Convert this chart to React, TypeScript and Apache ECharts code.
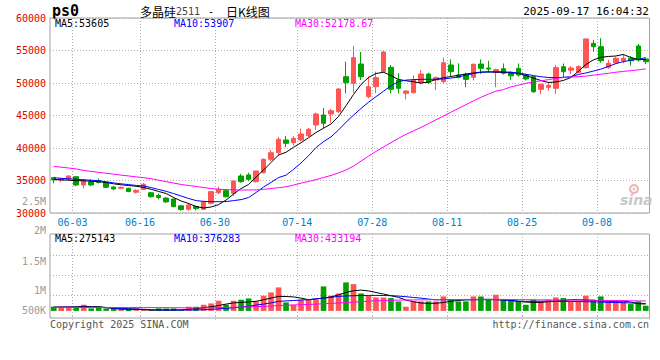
import React, { useEffect, useRef } from "react";
import * as echarts from "echarts";

// ---------- data ----------
const dates = [
  "05-28", "05-29", "05-30",
  "06-03", "06-04", "06-05", "06-06", "06-09", "06-10", "06-11", "06-12", "06-13",
  "06-16", "06-17", "06-18", "06-19", "06-20", "06-23", "06-24", "06-25", "06-26", "06-27",
  "06-30", "07-01", "07-02", "07-03", "07-04", "07-05", "07-07", "07-08", "07-09", "07-10", "07-11",
  "07-14", "07-15", "07-16", "07-17", "07-18", "07-21", "07-22", "07-23", "07-24", "07-25",
  "07-28", "07-29", "07-30", "07-31", "08-01", "08-04", "08-05", "08-06", "08-07", "08-08",
  "08-11", "08-12", "08-13", "08-14", "08-15", "08-18", "08-19", "08-20", "08-21", "08-22",
  "08-25", "08-26", "08-27", "08-28", "08-29", "09-01", "09-02", "09-03", "09-04", "09-05",
  "09-08", "09-09", "09-10", "09-11", "09-12", "09-15", "09-16",
];

const labelDates = ["06-03", "06-16", "06-30", "07-14", "07-28", "08-11", "08-25", "09-08"];

// [open, close, low, high]
const candles = [
  [35430, 35080, 34570, 35480], [35050, 35250, 34750, 35400], [35180, 35690, 35000, 35800],
  [35580, 34310, 34100, 35600], [34310, 35080, 33800, 35200], [34815, 34310, 34150, 35230],
  [35000, 34700, 34550, 35300], [34720, 33950, 33850, 34800], [34000, 33700, 33500, 34100],
  [33800, 33950, 33700, 34050], [33800, 33300, 33200, 33900], [33200, 33500, 33000, 33650],
  [33650, 34420, 33500, 34600], [33120, 32510, 32350, 33200], [32700, 32400, 32100, 33000],
  [32300, 31700, 31600, 32400], [32150, 30970, 30900, 32200], [31100, 30550, 30350, 31200],
  [30570, 31230, 30350, 31600], [31000, 30700, 30400, 31100], [30570, 31740, 30500, 31900],
  [31490, 33280, 31300, 33400], [33120, 33650, 32900, 34050], [33430, 32510, 32400, 33600],
  [33030, 34920, 32600, 35000], [35690, 34815, 34660, 36000], [35850, 35180, 34900, 36200],
  [34815, 36460, 34700, 36500], [36200, 38260, 36100, 38400], [38260, 39280, 38000, 39700],
  [39280, 41340, 38900, 41700], [41230, 40720, 40110, 41850], [40815, 41490, 40400, 41850],
  [41220, 42150, 41000, 43000], [41900, 42880, 41700, 43100], [43540, 45230, 42820, 45460],
  [45080, 43800, 43050, 46150], [45230, 45740, 43900, 46000], [45590, 49080, 45400, 49200],
  [50970, 50050, 48420, 53280], [49950, 53900, 48510, 55740], [52920, 50970, 50460, 54770],
  [47900, 49430, 47650, 51000], [49430, 50820, 48420, 51740], [51740, 54770, 51600, 54900],
  [52410, 49030, 48420, 52770], [50460, 49180, 48400, 51500], [48420, 48770, 47490, 48900],
  [48510, 50460, 48400, 51180], [50050, 51380, 49800, 52000], [51380, 50050, 49900, 51600],
  [50460, 50820, 48920, 51000], [50200, 53120, 49950, 53900], [52770, 51740, 51000, 53640],
  [51230, 50870, 50700, 53020], [51330, 50560, 49340, 51600], [50870, 52870, 50400, 53020],
  [52920, 52260, 51400, 53640], [52300, 52150, 51600, 53400], [51640, 52050, 49340, 52200],
  [52200, 51500, 51300, 53000], [51640, 51100, 50500, 51800], [52250, 51230, 51000, 53000],
  [51230, 50620, 50400, 51400], [50970, 48660, 48460, 51100], [49030, 49800, 48300, 49900],
  [49340, 49650, 48800, 50200], [49180, 52360, 48300, 52800], [52510, 51740, 50800, 53000],
  [51980, 52300, 51400, 52600], [51640, 52520, 51500, 52700], [52360, 56770, 52200, 56900],
  [56100, 55590, 54820, 56620], [55590, 53430, 53120, 56880], [52410, 53030, 52200, 53540],
  [53120, 53800, 52900, 54000], [53430, 53800, 53030, 54460], [53800, 53430, 52660, 54150],
  [55690, 53540, 53280, 56000], [53690, 53280, 52900, 53800],
];

const ma5 = [
  35155, 35110, 35045, 34985, 34955, 34890, 34815, 34690, 34490, 34340,
  34230, 34110, 33925, 33645, 33310, 33000, 32385, 31845, 31460, 31000,
  30770, 30925, 31290, 32000, 32925, 33770, 34385, 35540, 36615, 37770,
  38925, 39350, 40115, 40810, 41580, 42385, 43040, 43695, 44850, 46500,
  48230, 49770, 50845, 51460, 51650, 51150, 50540, 50350, 50190, 50000,
  50155, 50540, 50810, 51000, 51190, 51385, 51540, 51680, 51715, 51660,
  51630, 51570, 51490, 51155, 50770, 50385, 50075, 50155, 50385, 50845,
  51770, 52845, 53540, 53955, 54080, 54155, 54385, 53925, 53615, 53605,
];
const ma10 = [
  35415, 35340, 35260, 35185, 35110, 35030, 34970, 34800, 34630, 34490,
  34370, 34245, 34155, 33910, 33615, 33340, 32985, 32615, 32230, 31910,
  31785, 31740, 31740, 31755, 31910, 32060, 32370, 33155, 34000, 34710,
  35450, 35820, 36715, 37700, 38800, 40070, 40975, 41710, 42770, 43970,
  45050, 46080, 47040, 47900, 48730, 49570, 50200, 50440, 50520, 50560,
  50570, 50570, 50625, 50755, 50940, 51180, 51455, 51640, 51695, 51720,
  51725, 51650, 51525, 51355, 51140, 50970, 50845, 50815, 50875, 50970,
  51310, 51540, 51830, 52125, 52540, 52985, 53290, 53490, 53645, 53907,
];
const ma30 = [
  37180, 37050, 36920, 36780, 36560, 36400, 36250, 36120, 35980, 35820,
  35700, 35560, 35430, 35280, 35050, 34820, 34600, 34390, 34230, 34090,
  33920, 33760, 33650, 33600, 33560, 33540, 33540, 33550, 33640, 33760,
  33900, 34025, 34300, 34590, 34860, 35140, 35455, 35785, 36165, 36615,
  37215, 37980, 38750, 39475, 40165, 40815, 41480, 42105, 42630, 43165,
  43745, 44330, 44920, 45505, 46085, 46670, 47255, 47800, 48285, 48750,
  48980, 49400, 49660, 49950, 50180, 50330, 50520, 50700, 50840, 50910,
  50980, 51060, 51200, 51350, 51490, 51650, 51780, 51900, 52030, 52178.67,
];

const volumes = [
  226000, 222000, 224000, 221000, 274000, 182000, 225000, 183000, 180000, 184000,
  182000, 181000, 166000, 141000, 183000, 180000, 182000, 142000, 224000, 222000,
  274000, 307000, 374000, 276000, 374000, 399000, 432000, 357000, 499000, 582000,
  707000, 332000, 274000, 399000, 401000, 397000, 732000, 499000, 557000, 832000,
  790000, 557000, 499000, 457000, 455000, 441000, 357000, 224000, 359000, 356000,
  357000, 358000, 482000, 399000, 356000, 358000, 482000, 480000, 399000, 524000,
  401000, 398000, 357000, 274000, 399000, 357000, 400000, 457000, 441000, 358000,
  356000, 499000, 399000, 482000, 357000, 358000, 356000, 291000, 357000, 249000,
];
const volMa5 = [
  215000, 218000, 220000, 222000, 234000, 226000, 226000, 206000, 180000, 165000,
  160000, 160000, 150000, 142000, 142000, 142000, 142000, 145000, 160000, 175000,
  200000, 225000, 255000, 290000, 320000, 333000, 345000, 360000, 400000, 440000,
  483000, 480000, 470000, 440000, 400000, 420000, 440000, 470000, 520000, 580000,
  625000, 640000, 620000, 580000, 542000, 500000, 458000, 392000, 350000, 318000,
  308000, 312000, 330000, 360000, 380000, 398000, 400000, 405000, 410000, 405000,
  392000, 380000, 358000, 340000, 333000, 333000, 350000, 358000, 380000, 400000,
  400000, 392000, 383000, 370000, 358000, 360000, 367000, 340000, 300000, 292000,
];
const volMa10 = [
  210000, 210000, 212000, 212000, 215000, 212000, 210000, 200000, 190000, 180000,
  175000, 168000, 160000, 150000, 145000, 142000, 142000, 142000, 142000, 145000,
  150000, 160000, 172000, 185000, 198000, 215000, 235000, 265000, 290000, 320000,
  358000, 370000, 380000, 392000, 400000, 420000, 440000, 460000, 483000, 492000,
  500000, 505000, 507000, 507000, 505000, 500000, 490000, 475000, 455000, 440000,
  415000, 398000, 400000, 400000, 400000, 400000, 400000, 402000, 400000, 398000,
  395000, 380000, 365000, 358000, 360000, 362000, 362000, 360000, 358000, 358000,
  355000, 350000, 345000, 340000, 333000, 330000, 325000, 318000, 310000, 305000,
];
const volMa30 = [
  208000, 208000, 207000, 207000, 207000, 206000, 206000, 206000, 205000, 205000,
  204000, 204000, 203000, 202000, 202000, 201000, 200000, 198000, 196000, 195000,
  196000, 198000, 202000, 206000, 210000, 215000, 220000, 225000, 232000, 242000,
  255000, 262000, 268000, 275000, 282000, 288000, 300000, 308000, 318000, 330000,
  340000, 350000, 362000, 372000, 380000, 386000, 390000, 392000, 394000, 396000,
  398000, 400000, 402000, 404000, 405000, 406000, 407000, 408000, 408000, 408000,
  407000, 405000, 403000, 400000, 398000, 396000, 395000, 394000, 393000, 392000,
  390000, 388000, 385000, 382000, 380000, 378000, 375000, 373000, 370000, 368000,
];

const priceHeader = ["MA5:53605", "MA10:53907", "MA30:52178.67"];
const volHeader = ["MA5:275143", "MA10:376283", "MA30:433194"];
const volTickLabels = ["2.5M", "2M", "1.5M", "1M", "500K"];
const volGridValues = [500000, 1000000, 1500000];
const titleCode = "ps0";
const titleName = ["多晶硅", "2511", "-", "日K线图"];
const timestamp = "2025-09-17 16:04:32";
const footer = ["Copyright 2025 SINA.COM", "http://finance.sina.com.cn"];

// ---------- layout / style ----------
const UP = "#ff5555";
const DOWN = "#00a000";
const GRID_LINE = "#b0b0b0";
const BORDER = "#a0a0a0";
const MONO = '"DejaVu Sans Mono", "Liberation Mono", monospace';
const CJK = '"Noto Sans CJK SC", sans-serif';
const VOL_BASE = 120000;
const volLabelY = [201, 230.7, 261, 290, 310.3];
const headerX = [55, 174, 295];
const headerColors = ["#000000", "#0000ff", "#ff00ff"];

const isLabel = (_i: number, v: string) => labelDates.indexOf(v) >= 0;

export default function App() {
  const ref = useRef<HTMLDivElement>(null);

  useEffect(() => {
    if (!ref.current) return;
    const chart = echarts.init(ref.current, undefined, { renderer: "svg" });

    const dotted = { color: GRID_LINE, width: 1, type: [1, 2] as any };

    const lineSeries = (data: number[], color: string, xi: number, yi: number, z: number) => ({
      type: "line",
      xAxisIndex: xi,
      yAxisIndex: yi,
      data,
      symbol: "none",
      showSymbol: false,
      silent: true,
      z,
      lineStyle: { color, width: 1 },
      emphasis: { disabled: true },
    });

    const volData = volumes.map((v, i) => [i, v, candles[i][1] >= candles[i][0] ? 1 : -1]);

    const texts: any[] = [];
    const addText = (text: string, x: number, y: number, font: string, fill: string, align = "left") => {
      texts.push({
        type: "text",
        x,
        y,
        silent: true,
        style: { text, font, fill, textAlign: align, textVerticalAlign: "middle" },
      });
    };

    addText(titleCode, 52, 11, `bold 15px ${MONO}`, "#000");
    addText(titleName[0], 140, 11, `12px ${CJK}`, "#000");
    addText(titleName[1], 176, 11, `10px ${MONO}`, "#444");
    addText(titleName[2], 208, 11, `10px ${MONO}`, "#000");
    addText(titleName[3], 226, 11, `12px ${CJK}`, "#000");
    addText(timestamp, 649, 11.5, `11px ${MONO}`, "#000", "right");
    priceHeader.forEach((t, k) => addText(t, headerX[k], 23.7, `10px ${MONO}`, headerColors[k]));
    volHeader.forEach((t, k) => addText(t, headerX[k], 238.5, `10px ${MONO}`, headerColors[k]));
    volTickLabels.forEach((t, k) => addText(t, 46, volLabelY[k], `10px ${MONO}`, "#9a9a9a", "right"));
    addText(footer[0], 50, 324, `10px ${MONO}`, "#555", "left");
    addText(footer[1], 649, 324, `10px ${MONO}`, "#555", "right");
    // sina watermark
    texts.push({
      type: "circle",
      silent: true,
      shape: { cx: 634, cy: 189, r: 4 },
      style: { fill: "none", stroke: "#f2b0b0", lineWidth: 2 },
    });
    texts.push({
      type: "circle",
      silent: true,
      shape: { cx: 634, cy: 189, r: 1.5 },
      style: { fill: "#c8c8c8" },
    });
    addText("sina", 620, 200, `italic bold 14px "DejaVu Sans", sans-serif`, "#c8c8c8");

    const option: any = {
      animation: false,
      backgroundColor: "#ffffff",
      grid: [
        { left: 50, top: 18, width: 599.5, height: 195, show: true, borderColor: BORDER, borderWidth: 1, backgroundColor: "transparent" },
        { left: 50, top: 234, width: 599.5, height: 84, show: true, borderColor: BORDER, borderWidth: 1, backgroundColor: "transparent" },
      ],
      xAxis: [
        {
          type: "category",
          gridIndex: 0,
          data: dates,
          boundaryGap: true,
          axisLine: { show: false },
          axisTick: { show: false },
          axisLabel: {
            interval: isLabel,
            color: "#0080c8",
            fontFamily: MONO,
            fontSize: 10,
            margin: 4,
            padding: [0, 7.5, 0, 0],
          },
          splitLine: { show: true, interval: isLabel, lineStyle: dotted },
        },
        {
          type: "category",
          gridIndex: 1,
          data: dates,
          boundaryGap: true,
          axisLine: { show: false },
          axisTick: { show: true, interval: isLabel, length: 4, lineStyle: dotted },
          axisLabel: { show: false },
          splitLine: { show: true, interval: isLabel, lineStyle: dotted },
        },
      ],
      yAxis: [
        {
          type: "value",
          gridIndex: 0,
          min: 30000,
          max: 60000,
          interval: 5000,
          axisLine: { show: false },
          axisTick: { show: false },
          axisLabel: {
            color: "#e00000",
            fontFamily: MONO,
            fontSize: 10,
            margin: 4,
            padding: [0, 0, 3, 0],
            formatter: (v: number) => String(v),
          },
          splitLine: { show: true, lineStyle: dotted },
        },
        {
          type: "value",
          gridIndex: 1,
          min: -57500,
          max: 2042500,
          axisLine: { show: false },
          axisTick: { show: false, customValues: volGridValues },
          axisLabel: { show: false },
          splitLine: { show: true, lineStyle: dotted },
        },
      ],
      series: [
        {
          type: "candlestick",
          xAxisIndex: 0,
          yAxisIndex: 0,
          data: candles,
          barWidth: 5,
          silent: true,
          z: 2,
          itemStyle: { color: UP, color0: DOWN, borderColor: UP, borderColor0: DOWN, borderWidth: 1 },
        },
        lineSeries(ma5, "#000000", 0, 0, 3),
        lineSeries(ma10, "#0000ff", 0, 0, 3),
        lineSeries(ma30, "#ff00ff", 0, 0, 3),
        {
          type: "custom",
          xAxisIndex: 1,
          yAxisIndex: 1,
          data: volData,
          encode: { x: 0, y: 1 },
          silent: true,
          z: 2,
          renderItem: (_p: any, api: any) => {
            const idx = api.value(0);
            const vol = api.value(1);
            const up = api.value(2) > 0;
            const top = api.coord([idx, vol]);
            const base = api.coord([idx, VOL_BASE]);
            const w = api.size([1, 0])[0] * 0.75;
            return {
              type: "rect",
              shape: { x: top[0] - w / 2, y: top[1], width: w, height: base[1] - top[1] },
              style: { fill: up ? UP : DOWN },
            };
          },
        },
        lineSeries(volMa5, "#000000", 1, 1, 3),
        lineSeries(volMa10, "#0000ff", 1, 1, 3),
        lineSeries(volMa30, "#ff00ff", 1, 1, 3),
      ],
      graphic: texts,
    };

    chart.setOption(option);
    return () => chart.dispose();
  }, []);

  return (
    <div
      ref={ref}
      style={{ position: "fixed", left: 0, top: 0, width: 660, height: 360, background: "#fff" }}
    />
  );
}
